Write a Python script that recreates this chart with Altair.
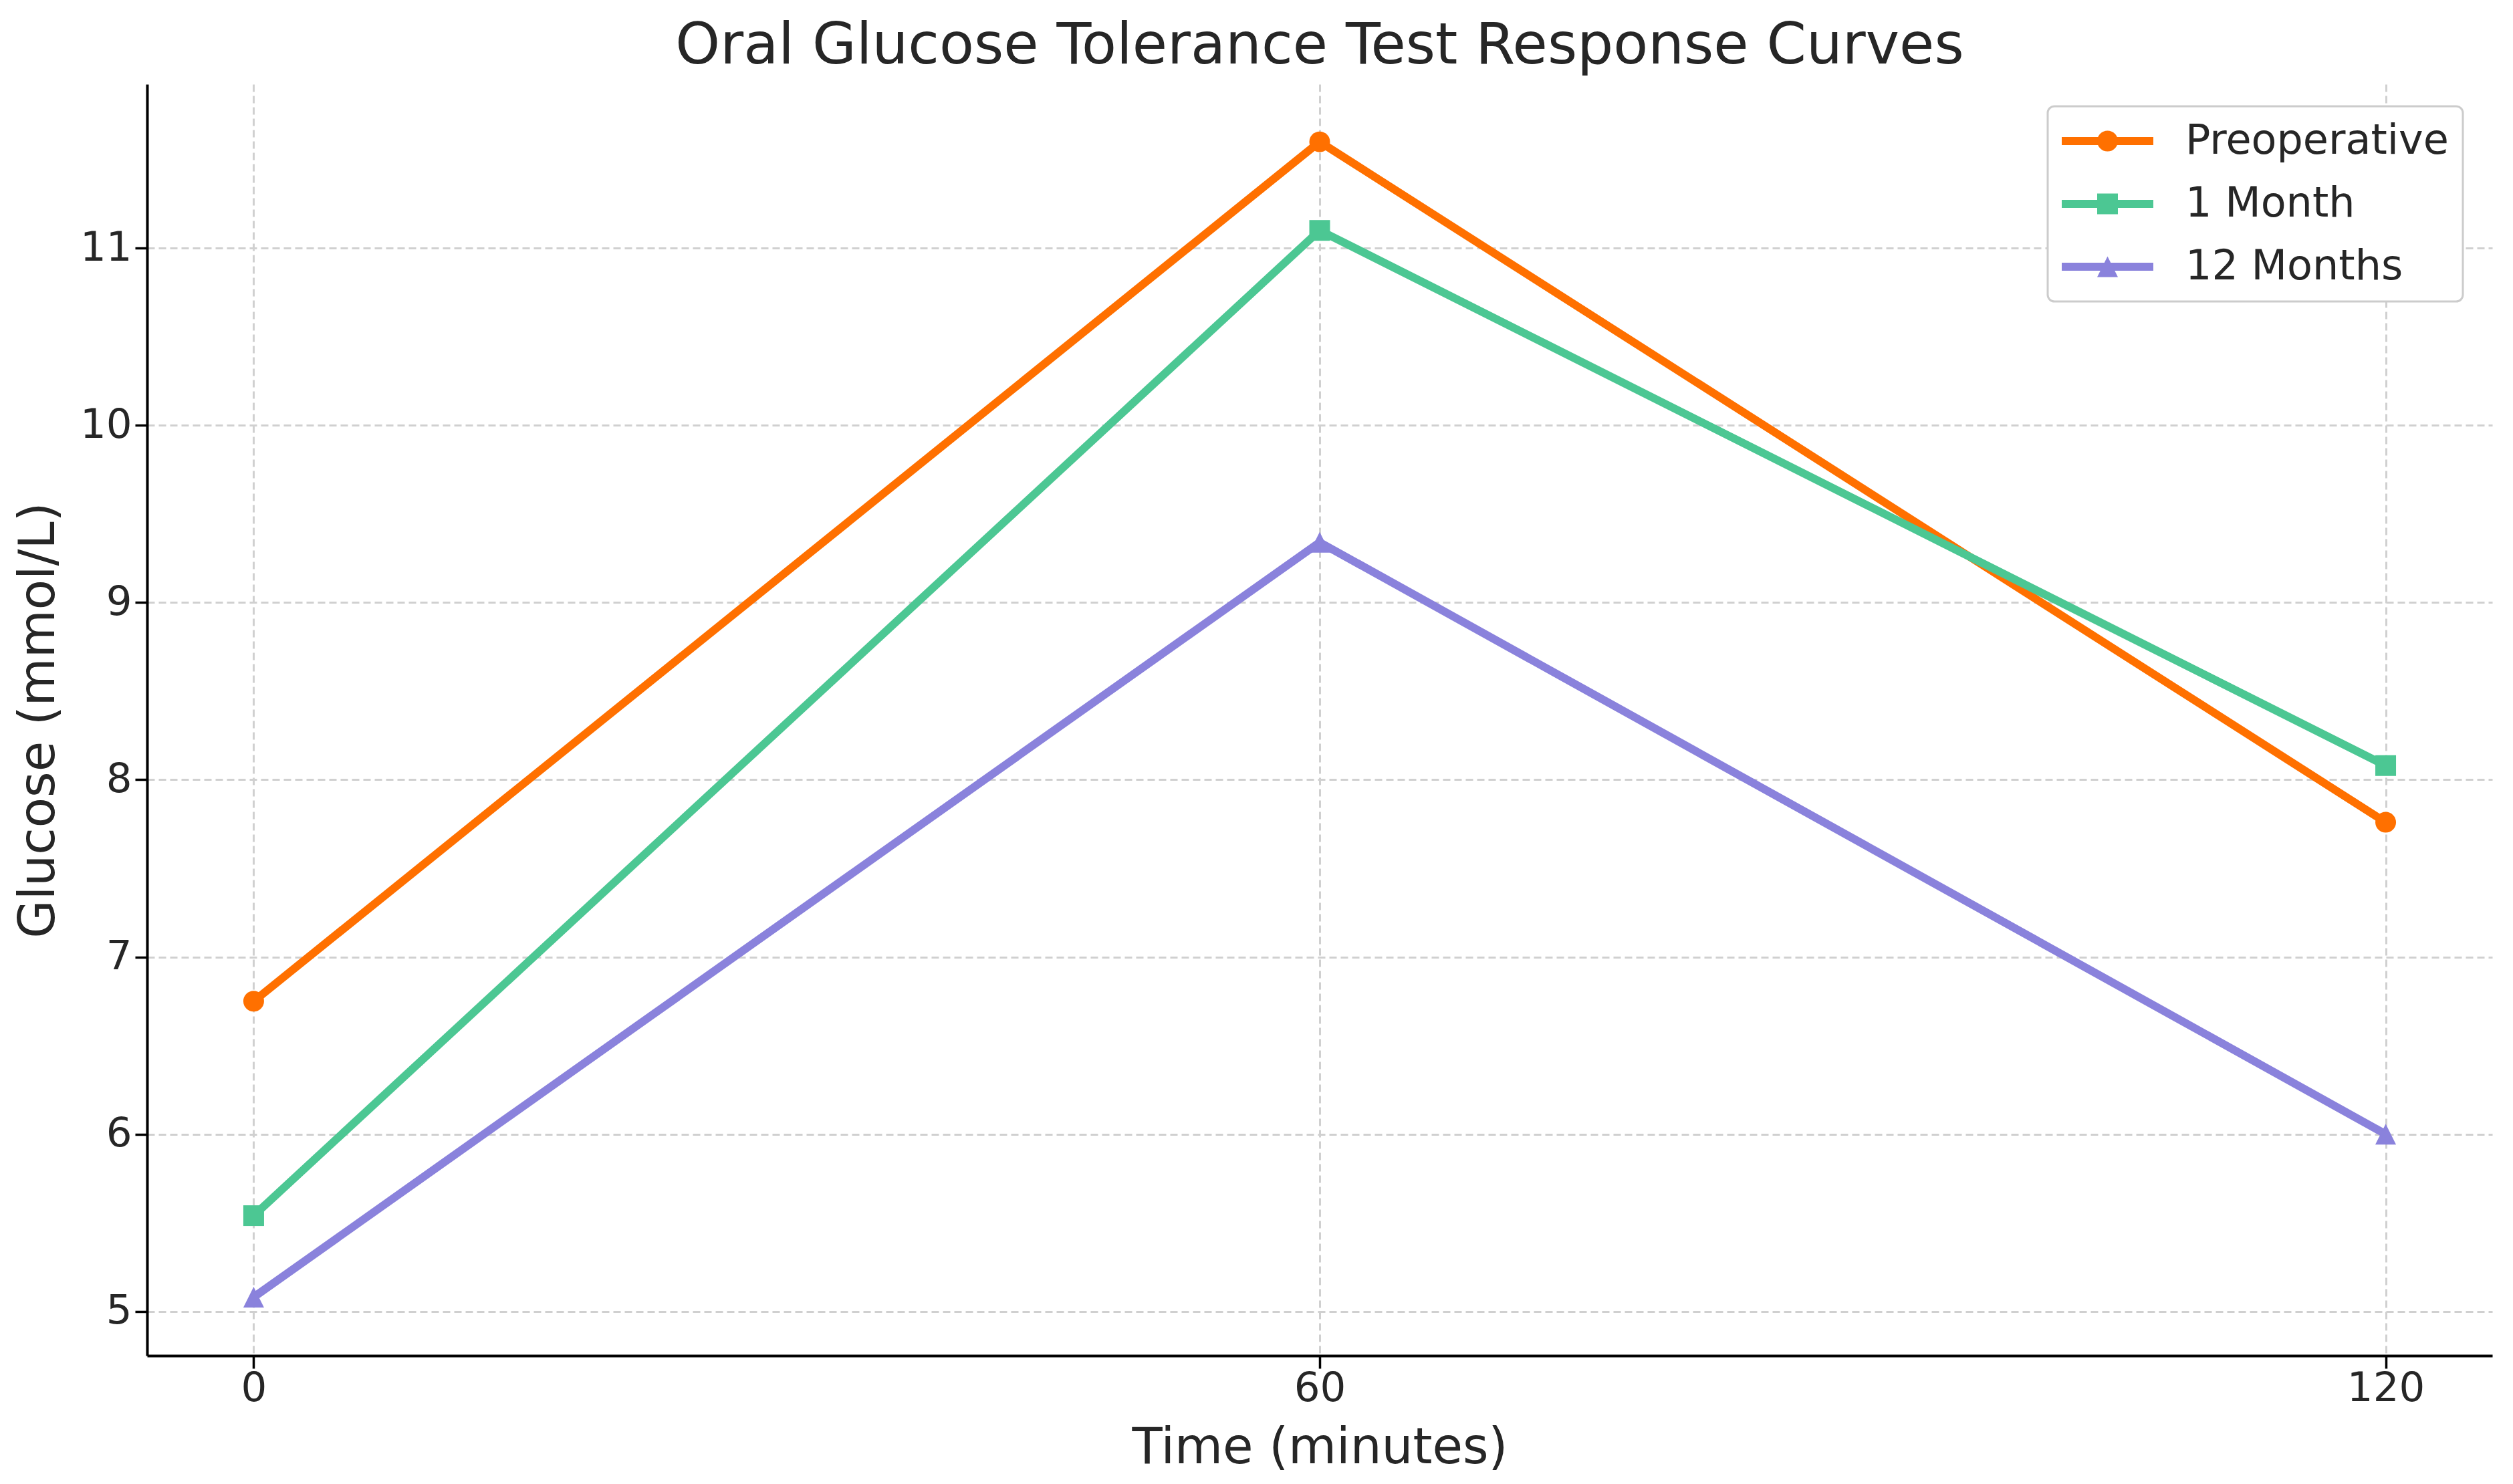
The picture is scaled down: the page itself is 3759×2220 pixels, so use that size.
import altair as alt
import pandas as pd

# ---- data ----
times = [0, 60, 120]
series_names = ["Preoperative", "1 Month", "12 Months"]
preoperative = [6.75, 11.6, 7.76]
one_month = [5.54, 11.1, 8.08]
twelve_months = [5.08, 9.34, 6.00]
x_ticks = [0, 60, 120]
y_ticks = [5, 6, 7, 8, 9, 10, 11]

colors = ["#FF7000", "#4CC793", "#8A82DC"]

rows = []
for name, vals in zip(series_names, [preoperative, one_month, twelve_months]):
    for t, v in zip(times, vals):
        rows.append({"time": t, "glucose": v, "series": name})
df = pd.DataFrame(rows)

FONT = "DejaVu Sans"
TXT = "#262626"
LW = 12

color_scale = alt.Scale(domain=series_names, range=colors)
fill_scale = alt.Scale(domain=series_names, range=colors)
shape_scale = alt.Scale(domain=series_names, range=["circle", "square", "M0,-1L1,1L-1,1Z"])

PAD = 21
LX, LY = 2843, 33         # legend frame corner (plot coords)
LINE_LEN = 137
ENTRY = 62                # legend entry size = max(symbol, label font size)
CX = LX + PAD + LINE_LEN / 2
CY = LY + PAD + ENTRY / 2

# legend with line symbols + labels (and the frame)
leg_lines = alt.Legend(
    title=None,
    orient="none",
    legendX=LX,
    legendY=LY,
    symbolType="M-2,0H6.839",
    symbolSize=961,
    symbolStrokeWidth=LW,
    labelOffset=123,
    labelFont=FONT,
    labelFontSize=62,
    labelColor=TXT,
    labelLimit=0,
    rowPadding=32,
    padding=PAD,
    strokeColor="#cccccc",
    fillColor="white",
    cornerRadius=10,
    zindex=1,
)
# legend with the marker symbols only, laid over the first one
leg_marks = alt.Legend(
    title=None,
    orient="none",
    legendX=CX - PAD - 15.5,
    legendY=CY - PAD - 15.5,
    symbolSize=961,
    symbolStrokeWidth=0,
    labelExpr="''",
    labelFontSize=10,
    labelOffset=0,
    rowPadding=63,
    padding=PAD,
    zindex=2,
)

x_enc = alt.X(
    "time:Q",
    scale=alt.Scale(domain=[-6, 126], nice=False, zero=False),
    axis=alt.Axis(
        values=x_ticks, format="d", title="Time (minutes)",
        titleX=1754, titleY=160, titleBaseline="alphabetic", titleAlign="center",
        tickSize=19, labelPadding=0, labelFlush=False, labelOverlap=False,
    ),
)
y_enc = alt.Y(
    "glucose:Q",
    scale=alt.Scale(domain=[4.75, 11.925], nice=False, zero=False),
    axis=alt.Axis(
        values=y_ticks, format="d", title="Glucose (mmol/L)",
        titleX=-140, titleY=951, titleAngle=270, titleBaseline="alphabetic", titleAlign="center",
        tickSize=18, labelPadding=5, labelFlush=False, labelOverlap=False,
    ),
)

lines = alt.Chart(df).mark_line(strokeWidth=LW).encode(
    x=x_enc,
    y=y_enc,
    color=alt.Color("series:N", scale=color_scale, legend=leg_lines, sort=series_names),
)

points = alt.Chart(df).mark_point(filled=True, size=961, opacity=1).encode(
    x=x_enc,
    y=y_enc,
    fill=alt.Fill("series:N", scale=fill_scale, legend=leg_marks, sort=series_names),
    shape=alt.Shape("series:N", scale=shape_scale, legend=leg_marks, sort=series_names),
)

chart = (
    alt.layer(lines, points)
    .resolve_scale(color="independent", fill="independent", shape="independent")
    .properties(
        width=3508,
        height=1902,
        background="white",
        autosize=alt.AutoSizeParams(type="none"),
        padding={"left": 212, "top": 118, "right": 23, "bottom": 184},
        title=alt.TitleParams(
            "Oral Glucose Tolerance Test Response Curves",
            font=FONT, fontSize=85, fontWeight="normal", color=TXT,
            anchor="middle", offset=13,
        ),
    )
    .configure_view(stroke=None)
    .configure_legend(strokeWidth=3)
    .configure_axis(
        domainColor="black", domainWidth=4,
        tickColor="black", tickWidth=3.5,
        grid=True, gridColor="#d0d0d0", gridDash=[11, 6], gridWidth=3,
        labelFont=FONT, labelFontSize=61, labelColor=TXT,
        titleFont=FONT, titleFontSize=74, titleFontWeight="normal", titleColor=TXT,
    )
)

chart.save("out.html", embed_options={"renderer": "svg", "actions": False})
